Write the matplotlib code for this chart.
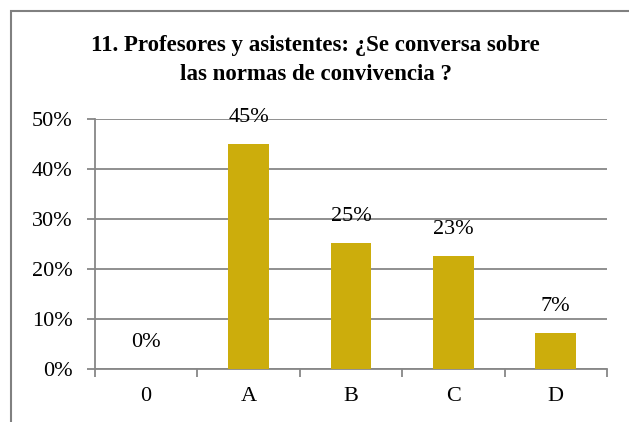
import matplotlib.pyplot as plt
from matplotlib.patches import Rectangle

categories = ["0", "A", "B", "C", "D"]
values = [0.0, 0.45, 0.252, 0.226, 0.072]
y_ticks = [0, 0.1, 0.2, 0.3, 0.4, 0.5]
title = "11. Profesores y asistentes: ¿Se conversa sobre\nlas normas de convivencia ?"

plt.rcParams['font.family'] = ['Liberation Serif', 'DejaVu Serif']

fig = plt.figure(figsize=(6.29, 4.22), dpi=100)
ax = fig.add_axes([0.151, 0.1256, 0.814, 0.5924])

grey = '#878787'
x = list(range(len(categories)))
ax.bar(x, values, width=0.4, color='#CCAD0C', zorder=3)

for xi, v in zip(x, values):
    ax.annotate(f"{v:.0%}", (xi, v), xytext=(0, 19), textcoords='offset points',
                ha='center', va='center', fontsize=16, zorder=4)

ax.set_xlim(-0.5, len(categories) - 0.5)
ax.set_ylim(0, 0.5)
ax.set_yticks(y_ticks)
ax.set_yticklabels([f"{t:.0%}" for t in y_ticks], fontsize=16)
ax.yaxis.grid(True, color=grey, linewidth=1.3, zorder=0)
ax.set_axisbelow(True)

ax.set_xticks([i - 0.5 for i in range(len(categories) + 1)])
ax.set_xticklabels([])
ax.set_xticks(x, minor=True)
ax.set_xticklabels(categories, minor=True, fontsize=16)
ax.tick_params(axis='x', which='minor', length=0, pad=13)
ax.tick_params(axis='x', which='major', length=6, width=1.3, color=grey)
ax.tick_params(axis='y', length=6, width=1.3, color=grey, pad=10)

for s in ['top', 'right']:
    ax.spines[s].set_visible(False)
for s in ['left', 'bottom']:
    ax.spines[s].set_color(grey)
    ax.spines[s].set_linewidth(1.3)

fig.text(0.502, 0.858, title, ha='center', va='center', fontsize=16.5,
         fontweight='bold', linespacing=1.5)

fig.patches.append(Rectangle((0.0175, -0.1), 1.2, 1.0742, transform=fig.transFigure,
                             fill=False, edgecolor='#808080', linewidth=1.5))

plt.savefig("out.png", dpi=100)
